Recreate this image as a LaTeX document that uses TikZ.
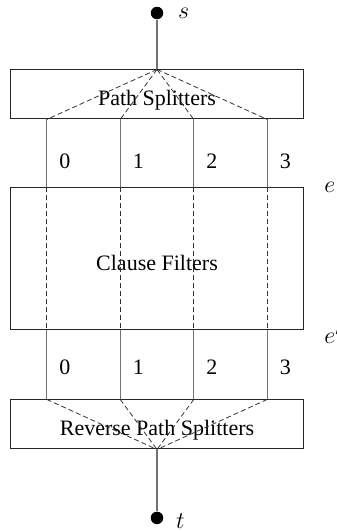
\documentclass[tikz,border=0pt]{standalone}
\usepackage{fontspec}
\setmainfont{Liberation Serif}
\usetikzlibrary{calc,positioning}
\tikzset{
  box/.style={rectangle, draw=black!85, line width=0.5pt, minimum width=146.5pt, inner sep=0pt, text height=14pt, text depth=2.5pt},
  dot/.style={circle, fill=black, inner sep=0pt, minimum size=6.25pt},
  wire/.style={draw=black!55, line width=0.6pt},
  dline/.style={draw=black!80, line width=0.4pt, dash pattern=on 2.5pt off 1.5pt},
  tag/.style={inner sep=0pt},
  mtag/.style={inner sep=0pt, font=\fontsize{13}{15}\selectfont}
}

\begin{document}
\begin{tikzpicture}[x=0.5pt, y=-0.5pt, font=\fontsize{11}{13}\selectfont]
    \useasboundingbox (0,0) rectangle (337,531);
    \node [dot] (s) at (157,13) {};
    \node [mtag, right=7pt of s] (slab) {$s$};
    \node [box, minimum height=24.5pt, below=24.9pt of s] (split) {Path Splitters};
    \node [box, minimum height=71pt, below=34pt of split] (filt) {Clause Filters};
    \node [box, minimum height=24.5pt, below=34.5pt of filt] (rev) {Reverse Path Splitters};
    \node [dot, below=30.9pt of rev] (t) {};
    \node [mtag, right=6pt of t, yshift=-1.5pt] (tlab) {$t$};
    \node [mtag, right=10pt of filt.north east] (elab) {$e$};
    \node [mtag, right=10pt of filt.south east, yshift=-2pt] (eplab) {$e'$};
    % four paths through the filters
    \foreach \i in {0,...,3} {
      \coordinate (a\i) at ($(split.south west)!{(2*\i+1)/8}!(split.south east)$);
      \coordinate (b\i) at ($(filt.north west)!{(2*\i+1)/8}!(filt.north east)$);
      \coordinate (c\i) at ($(filt.south west)!{(2*\i+1)/8}!(filt.south east)$);
      \coordinate (d\i) at ($(rev.north west)!{(2*\i+1)/8}!(rev.north east)$);
      \node [tag] (up\i) at ($(b\i)+(9pt,13pt)$) {\i};
      \node [tag] (lo\i) at ($(c\i)+(9pt,-18.5pt)$) {\i};
      \draw [dline] (split.north) -- (a\i);
      \draw [wire] (a\i) -- (b\i);
      \draw [dline] (b\i) -- (c\i);
      \draw [wire] (c\i) -- (d\i);
      \draw [dline] (d\i) -- (rev.south);
    }
    \draw [wire] (s) -- (split.north);
    \draw [wire] (rev.south) -- (t);
\end{tikzpicture}
\end{document}
